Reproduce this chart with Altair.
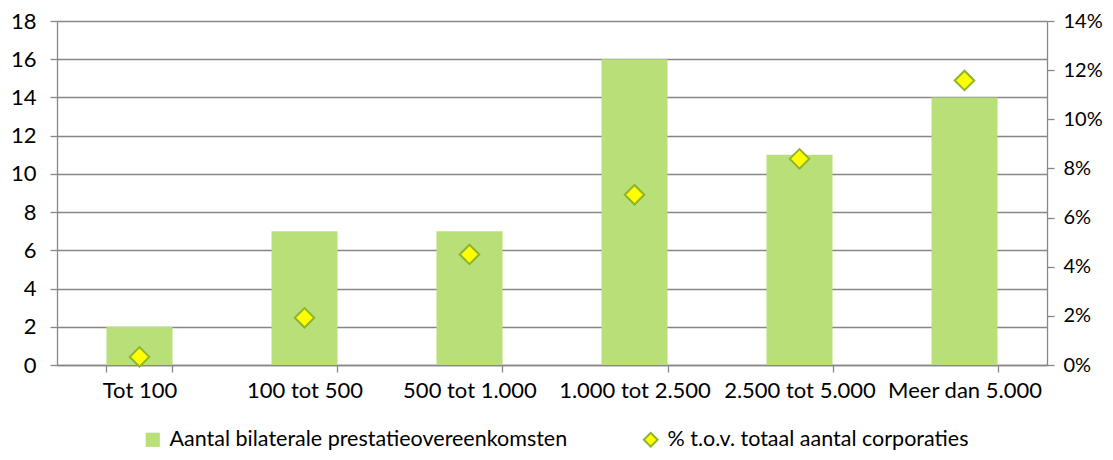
import altair as alt
import pandas as pd

categories = ["Tot 100", "100 tot 500", "500 tot 1.000", "1.000 tot 2.500", "2.500 tot 5.000", "Meer dan 5.000"]
counts = [2, 7, 7, 16, 11, 14]
pct = [0.0033, 0.0192, 0.045, 0.0693, 0.0839, 0.1158]
series_bar = "Aantal bilaterale prestatieovereenkomsten"
series_pt = "% t.o.v. totaal aantal corporaties"

df = pd.DataFrame({"cat": categories, "count": counts, "pct": pct,
                   "s1": [series_bar] * 6, "s2": [series_pt] * 6})

FONT = "Lato"
FS = 22
LFS = 21.5
GRAY = "#878787"
YELLOW = "#FFFF00"
DGREEN = "#8DB52C"

x = alt.X("cat:N", sort=categories,
          scale=alt.Scale(paddingInner=0.6, paddingOuter=0.3),
          axis=alt.Axis(title=None, labelAngle=0, tickBand="extent", domainColor=GRAY,
                        domainWidth=1.3, tickWidth=1.3,
                        tickColor=GRAY, tickSize=7, labelPadding=8, labelFontSize=FS,
                        labelFont=FONT, labelColor="#000000"))

bars = alt.Chart(df).mark_bar(color="#B8DF78").encode(
    x=x,
    y=alt.Y("count:Q", scale=alt.Scale(domain=[0, 18], nice=False),
            axis=alt.Axis(title=None, values=list(range(0, 20, 2)), grid=True, gridColor=GRAY,
                          gridWidth=1.4, domainColor=GRAY, domainWidth=1.3, tickWidth=1.3,
                          tickColor=GRAY, tickSize=7,
                          labelPadding=14, labelFontSize=FS, labelFont=FONT, labelColor="#000000")),
    color=alt.Color("s1:N", scale=alt.Scale(domain=[series_bar], range=["#B8DF78"]),
                    legend=alt.Legend(orient="none", legendX=85, legendY=408, title=None,
                                      symbolType="square", symbolSize=200, labelFontSize=LFS,
                                      labelFont=FONT, labelColor="#000000", labelOffset=6,
                                      labelLimit=600)),
)

points = alt.Chart(df).mark_point(shape="diamond", filled=True, stroke=DGREEN,
                                  strokeWidth=2, size=380, opacity=1).encode(
    x=x,
    y=alt.Y("pct:Q", scale=alt.Scale(domain=[0, 0.14], nice=False),
            axis=alt.Axis(title=None, orient="right", values=[i / 100 for i in range(0, 16, 2)],
                          format=".0%", grid=False, domainColor=GRAY, domainWidth=1.3,
                          tickWidth=1.3, tickColor=GRAY, tickSize=7,
                          labelPadding=9, labelFontSize=20, labelFont=FONT, labelColor="#000000")),
    color=alt.Color("s2:N", scale=alt.Scale(domain=[series_pt], range=[YELLOW]),
                    legend=alt.Legend(orient="none", legendX=583, legendY=408, title=None,
                                      symbolType="diamond", symbolStrokeWidth=2,
                                      symbolSize=190, labelFontSize=LFS,
                                      labelFont=FONT, labelColor="#000000", labelOffset=6,
                                      labelLimit=600)),
)

chart = alt.layer(bars, points).resolve_scale(y="independent", color="independent").properties(
    width=990, height=344,
    autosize=alt.AutoSizeParams(type="none"),
    padding={"left": 49, "top": 13, "right": 58, "bottom": 87},
).configure_view(stroke=None)

chart.save("out.html", embed_options={"renderer": "svg", "actions": False})
